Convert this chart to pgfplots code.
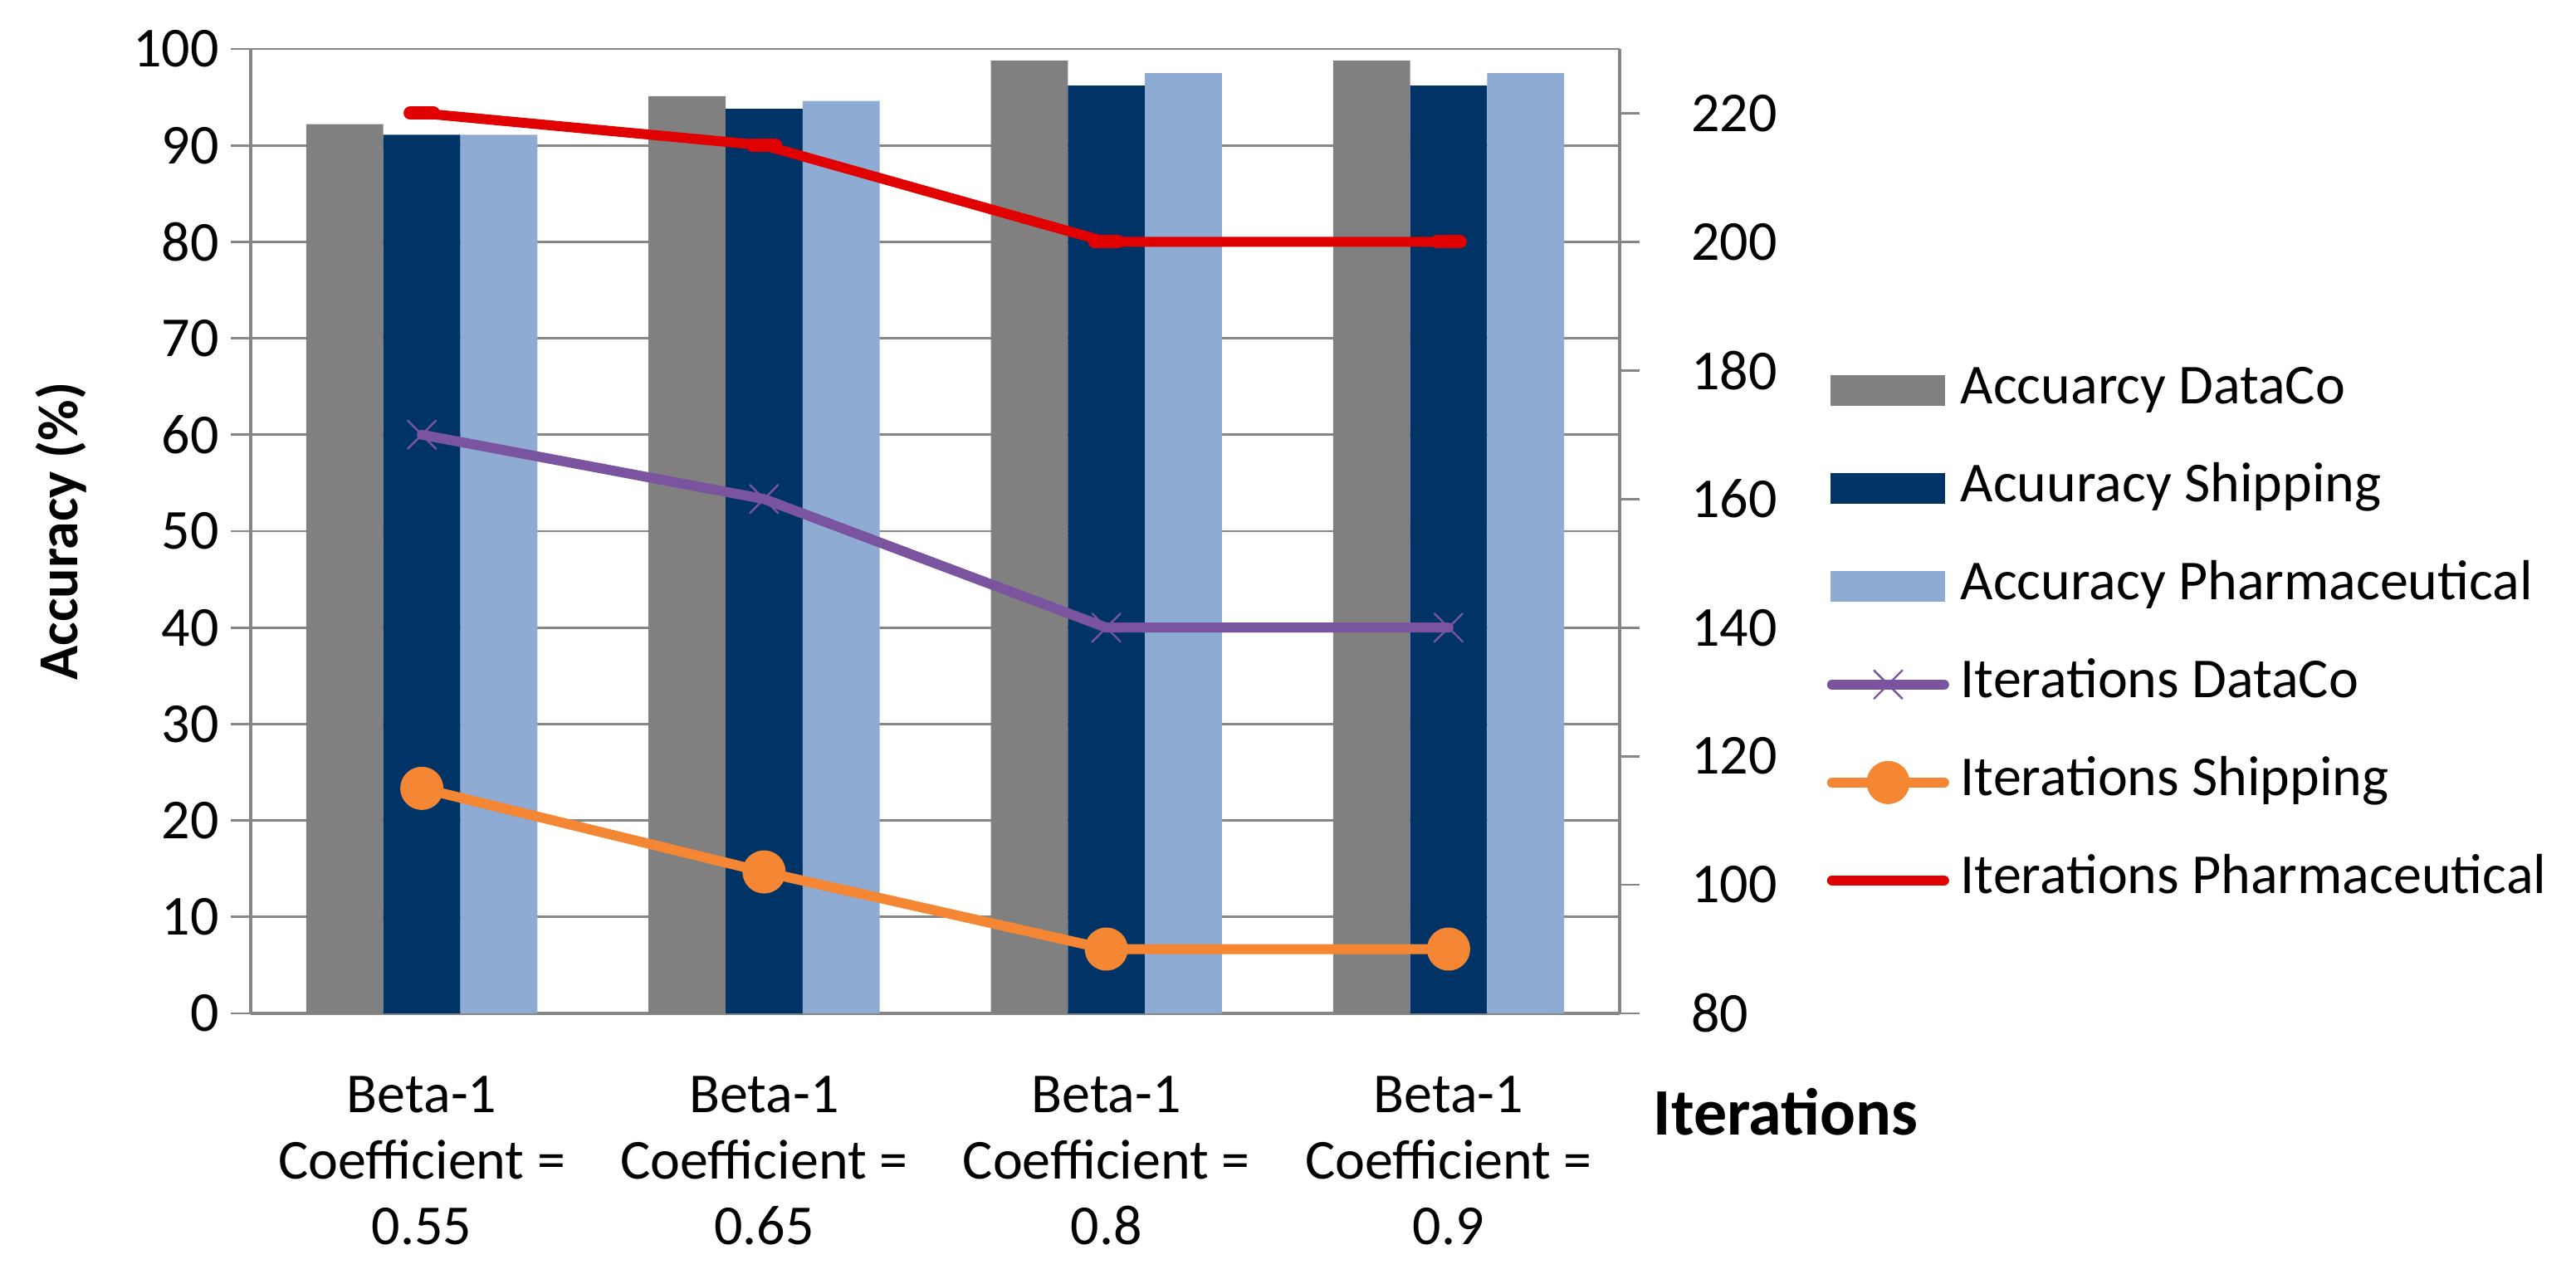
\documentclass[border=0pt]{standalone}
\usepackage{fontspec}
\setmainfont{Carlito}
\usepackage{pgfplots}
\pgfplotsset{compat=1.18}
\definecolor{cGray}{RGB}{128,128,128}
\definecolor{cNavy}{RGB}{0,51,102}
\definecolor{cLight}{RGB}{141,171,211}
\definecolor{cPurple}{RGB}{122,84,158}
\definecolor{cOrange}{RGB}{245,134,52}
\definecolor{cRed}{RGB}{224,0,0}
\definecolor{cAxis}{RGB}{134,134,134}
\newcommand{\fs}{\fontsize{17}{20.3}\selectfont}
\begin{document}
\begin{tikzpicture}
\useasboundingbox (-75.5pt,-77pt) rectangle (700.25pt,305.25pt);
\pgfplotsset{
  common/.style={
    scale only axis, width=412.25pt, height=290.5pt,
    xmin=-0.5, xmax=3.5,
    clip mode=individual,
    /pgf/number format/assume math mode=true,
    ticklabel style={font=\fs},
    tick align=outside, major tick length=6pt,
    axis line style={cAxis, line width=0.9pt, -},
    major tick style={cAxis, line width=0.7pt},
  }
}
\begin{axis}[common,
  ymin=0, ymax=100, ytick={0,10,...,100},
  ybar=0pt, bar width=0.225,
  xtick={0,1,2,3},
  xticklabels={{Beta-1\\Coefficient =\\0.55},{Beta-1\\Coefficient =\\0.65},{Beta-1\\Coefficient =\\0.8},{Beta-1\\Coefficient =\\0.9}},
  xticklabel style={align=center, yshift=-9.5pt, font=\fontsize{17}{19.8}\selectfont},
  major x tick style={draw=none},
  axis x line*=bottom, axis y line*=left,
  ymajorgrids, major grid style={cAxis, line width=0.7pt},
  yticklabel style={anchor=east},
]
\addplot[fill=cGray, draw=none] coordinates {(0,92.2) (1,95.1) (2,98.8) (3,98.8)};
\addplot[fill=cNavy, draw=none] coordinates {(0,91.1) (1,93.8) (2,96.2) (3,96.2)};
\addplot[fill=cLight, draw=none] coordinates {(0,91.1) (1,94.6) (2,97.5) (3,97.5)};
\node[rotate=90, anchor=center, font=\fs\bfseries] at (axis description cs:-0.1383,0.5) {Accuracy (\%)};
\end{axis}
\begin{axis}[common,
  ymin=80, ymax=230, ytick={80,100,...,220},
  axis y line*=right, axis x line=none,
  yticklabel style={anchor=west, xshift=12pt},
  legend style={at={(axis description cs:1.151,0.6738)}, anchor=north west, draw=none, fill=none, inner sep=0pt, row sep=13.5pt, column sep=3.5pt, font=\fs, nodes={inner sep=0pt, text height=12pt, text depth=4pt}},
  legend cell align=left,
  legend image code/.code={\draw[mark repeat=2, mark phase=2, #1] plot coordinates {(1.5pt,0pt) (18.4pt,0pt) (35.25pt,0pt)};},
]
\addlegendimage{legend image code/.code={\fill[cGray] (1.25pt,-4.4pt) rectangle (35.25pt,4.4pt);}}
\addlegendentry{Accuarcy DataCo}
\addlegendimage{legend image code/.code={\fill[cNavy] (1.25pt,-4.4pt) rectangle (35.25pt,4.4pt);}}
\addlegendentry{Acuuracy Shipping}
\addlegendimage{legend image code/.code={\fill[cLight] (1.25pt,-4.4pt) rectangle (35.25pt,4.4pt);}}
\addlegendentry{Accuracy Pharmaceutical}
\addplot[color=cPurple, line width=3pt, line cap=round, line join=round, mark=x, mark size=6pt, mark options={line width=0.6pt, solid}] coordinates {(0,170) (1,160) (2,140) (3,140)};
\addlegendentry{Iterations DataCo}
\addplot[color=cOrange, line width=3pt, line cap=round, line join=round, mark=*, mark size=5pt, mark options={fill=cOrange, draw=none}] coordinates {(0,115) (1,102) (2,90) (3,90)};
\addlegendentry{Iterations Shipping}
\addplot[color=cRed, line width=3pt, line cap=round, line join=round, mark=-, mark size=3.5pt, mark options={line width=4pt},
  legend image code/.code={\draw[cRed, line width=3pt, line cap=round] (1.5pt,0pt) -- (35.25pt,0pt);}] coordinates {(0,220) (1,215) (2,200) (3,200)};
\addlegendentry{Iterations Pharmaceutical}
\node[anchor=west, inner sep=0pt, font=\fontsize{20}{24}\selectfont\bfseries] at (axis description cs:1.0243,-0.1024) {Iterations};
\end{axis}
\end{tikzpicture}
\end{document}
